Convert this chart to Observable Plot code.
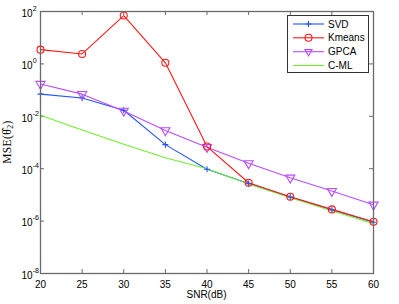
<!DOCTYPE html>
<html><head><meta charset="utf-8">
<script src="https://cdn.jsdelivr.net/npm/d3@7"></script>
<script src="https://cdn.jsdelivr.net/npm/@observablehq/plot@0.6"></script>
<style>
html,body{margin:0;padding:0;background:#fff;}
#chart{width:399px;height:304px;}
</style></head><body><div id="chart"></div>
<script>
const snr = [20, 25, 30, 35, 40, 45, 50, 55, 60];
const svd = [0.07, 0.05, 0.017, 8.3e-4, 9.5e-5, 2.7e-5, 8.3e-6, 2.7e-6, 9e-7];
const kmeans = [3.5, 2.4, 70, 1.1, 7e-4, 2.9e-5, 8.5e-6, 2.8e-6, 9.5e-7];
const gpca = [0.17, 0.07, 0.016, 2.9e-3, 6.6e-4, 1.6e-4, 4.5e-5, 1.4e-5, 4.2e-6];
const cml = [0.011, 3e-3, 8.5e-4, 2.6e-4, 1e-4, 2.6e-5, 7.8e-6, 2.5e-6, 8e-7];
const xTicks = [20, 25, 30, 35, 40, 45, 50, 55, 60];
const yTicks = [1e2, 1e0, 1e-2, 1e-4, 1e-6, 1e-8];
const seriesNames = ["SVD", "Kmeans", "GPCA", "C-ML"];
const seriesColors = ["#2255ff", "#ff1a1a", "#b84dff", "#6ff033"];
const xLabel = "SNR(dB)";

const seriesValues = {SVD: svd, Kmeans: kmeans, GPCA: gpca, "C-ML": cml};
const rows = [];
for (const name of seriesNames) seriesValues[name].forEach((v, i) => rows.push({series: name, snr: snr[i], mse: v}));
const of = (name) => rows.filter(d => d.series === name);
const col = Object.fromEntries(seriesNames.map((n, i) => [n, seriesColors[i]]));
const axisGray = "#6a6a6a";

const drawOrder = ["SVD", "GPCA", "C-ML", "Kmeans"];
const lineMarks = drawOrder.map(n => Plot.line(of(n), {x: "snr", y: "mse", stroke: col[n], strokeWidth: 1.1}));
const dotMarks = [
  Plot.dot(of("SVD"), {x: "snr", y: "mse", symbol: "plus", r: 2.1, stroke: col.SVD, strokeWidth: 1.1}),
  Plot.dot(of("GPCA"), {x: "snr", y: "mse", symbol: "triangle", rotate: 180, r: 3.4, stroke: col.GPCA, strokeWidth: 1.1}),
  Plot.dot(of("Kmeans"), {x: "snr", y: "mse", symbol: "circle", r: 3.5, stroke: col.Kmeans, strokeWidth: 1.1})
];

const plot = Plot.plot({
  width: 399, height: 304,
  marginLeft: 40, marginRight: 26, marginTop: 11, marginBottom: 31,
  style: {fontFamily: "'Liberation Sans', Arial, sans-serif", fontSize: "10px", background: "#fff", color: "#000"},
  x: {domain: [20, 60], label: null},
  y: {type: "log", domain: [1e-8, 1e2], label: null},
  marks: [
    Plot.axisX(xTicks, {tickSize: 0, tickPadding: 7, tickFormat: d => String(d), label: null}),
    Plot.axisY(yTicks, {tickSize: 0, tickPadding: 19, textAnchor: "start", dy: 2, tickFormat: d => "10^" + Math.round(Math.log10(d)), label: null}),
    Plot.ruleX(xTicks, {x: d => d, y1: 1e-8, y2: 1e-8, insetTop: -4, stroke: axisGray}),
    Plot.ruleX(xTicks, {x: d => d, y1: 1e2, y2: 1e2, insetBottom: -4, stroke: axisGray}),
    Plot.ruleY(yTicks, {y: d => d, x1: 20, x2: 20, insetRight: -4, stroke: axisGray}),
    Plot.ruleY(yTicks, {y: d => d, x1: 60, x2: 60, insetLeft: -4, stroke: axisGray}),
    ...lineMarks,
    ...dotMarks,
    Plot.frame({stroke: axisGray, strokeWidth: 1.3})
  ]
});

const svg = d3.select(plot);
// superscript exponents for y tick labels
svg.selectAll('g[aria-label="y-axis tick label"] text').each(function () {
  const t = d3.select(this);
  const s = t.text();
  const exp = s.split("^")[1];
  t.text(null);
  t.append("tspan").text("10");
  t.append("tspan").attr("dy", -6).attr("font-size", 7).text(exp);
});

// axis titles
const W = 399, ml = 40, mr = 26, mt = 11, mb = 31, H = 304;
svg.append("text").attr("x", (ml + W - mr) / 2).attr("y", 298).attr("text-anchor", "middle")
  .attr("font-size", 10).attr("fill", "#000").text(xLabel);
const yl = svg.append("text").attr("transform", `translate(10.5,${(mt + H - mb) / 2}) rotate(-90)`)
  .attr("text-anchor", "middle").attr("font-family", "'Liberation Serif', 'Times New Roman', serif")
  .attr("font-size", 11.5).attr("letter-spacing", 0.4).attr("fill", "#000");
yl.append("tspan").text("MSE(\u03B8\u0302");
yl.append("tspan").attr("dy", 2.5).attr("font-size", 8).text("2");
yl.append("tspan").attr("dy", -2.5).text(")");

// legend
const lg = svg.append("g");
lg.append("rect").attr("x", 287.5).attr("y", 15.5).attr("width", 81).attr("height", 57)
  .attr("fill", "#fff").attr("stroke", "#333").attr("stroke-width", 1);
const rowY = [24, 37.8, 51.7, 65.5];
const legSym = {SVD: [d3.symbolPlus, 2.1], Kmeans: [d3.symbolCircle, 3.5], GPCA: [d3.symbolTriangle2, 3.4], "C-ML": null};
seriesNames.forEach((n, i) => {
  const y = rowY[i];
  lg.append("line").attr("x1", 293).attr("x2", 324).attr("y1", y).attr("y2", y)
    .attr("stroke", col[n]).attr("stroke-width", 1.1);
  const s = legSym[n];
  if (s) {
    lg.append("path").attr("d", d3.symbol(s[0], Math.PI * s[1] * s[1])())
      .attr("transform", `translate(308.5,${y})` + (n === "GPCA" ? " rotate(180)" : ""))
      .attr("fill", "none").attr("stroke", col[n]).attr("stroke-width", 1.1);
  }
  lg.append("text").attr("x", 328).attr("y", y + 3.6).attr("text-anchor", "start")
    .attr("font-size", 10).attr("fill", "#000").text(n);
});

document.getElementById("chart").appendChild(plot);
</script></body></html>
